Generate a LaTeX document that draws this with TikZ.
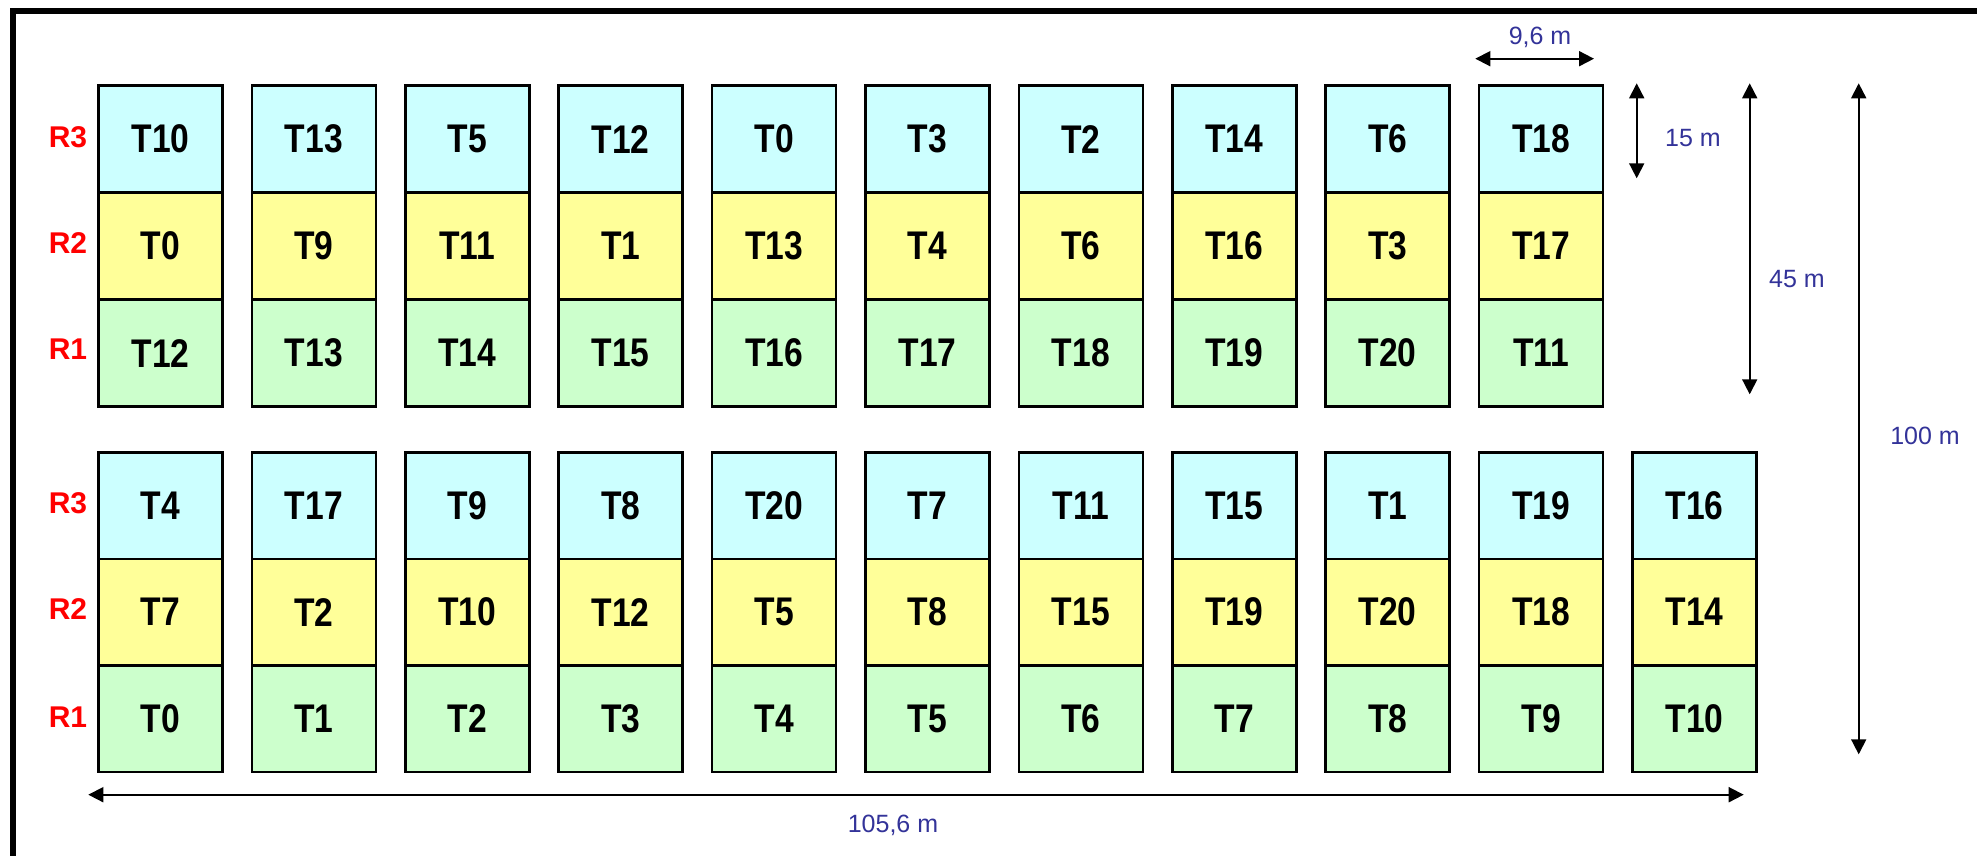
\documentclass[tikz,border=0pt]{standalone}
\usepackage{fontspec}
\setmainfont{Liberation Sans}
\newfontfamily\cellfont[FakeStretch=0.84]{Liberation Sans}
\usetikzlibrary{arrows.meta}
\definecolor{cthree}{HTML}{CCFFFF}
\definecolor{ctwo}{HTML}{FFFF99}
\definecolor{cone}{HTML}{CCFFCC}
\definecolor{labblue}{HTML}{333399}
\definecolor{rowred}{HTML}{FF0000}
\begin{document}
\begin{tikzpicture}[x=1pt,y=-1pt,
  cell/.style={draw, line width=2.5pt, minimum width=124pt, minimum height=107pt,
    inner sep=0pt, outer sep=0pt, anchor=north west,
    font=\cellfont\bfseries\fontsize{40}{40}\selectfont},
  rowlab/.style={text=rowred, font=\bfseries\fontsize{30}{30}\selectfont, inner sep=0pt},
  dimlab/.style={text=labblue, font=\fontsize{25}{25}\selectfont, inner sep=0pt},
  dim/.style={line width=1.8pt, {Triangle[length=15pt,width=15pt]}-{Triangle[length=15pt,width=15pt]}}
]
\useasboundingbox (0,0) rectangle (1977,856);
\clip (0,0) rectangle (1977,856);
\fill[white] (0,0) rectangle (1977,856);
% frame
\draw[line width=6pt] (13,900) -- (13,11) -- (2000,11);

% upper block
\foreach \lab [count=\i from 0] in {T10,T13,T5,T12,T0,T3,T2,T14,T6,T18}
  \node[cell, fill=cthree] (ua\i) at ({98.5+153.4*\i}, 85.7) {\lab};
\foreach \lab [count=\i from 0] in {T0,T9,T11,T1,T13,T4,T6,T16,T3,T17}
  \node[cell, fill=ctwo] (ub\i) at ({98.5+153.4*\i}, 192.7) {\lab};
\foreach \lab [count=\i from 0] in {T12,T13,T14,T15,T16,T17,T18,T19,T20,T11}
  \node[cell, fill=cone] (uc\i) at ({98.5+153.4*\i}, 299.7) {\lab};

% lower block
\foreach \lab [count=\i from 0] in {T4,T17,T9,T8,T20,T7,T11,T15,T1,T19,T16}
  \node[cell, fill=cthree, minimum height=106.5pt] (la\i) at ({98.5+153.4*\i}, 452.3) {\lab};
\foreach \lab [count=\i from 0] in {T7,T2,T10,T12,T5,T8,T15,T19,T20,T18,T14}
  \node[cell, fill=ctwo, minimum height=106.5pt] (lb\i) at ({98.5+153.4*\i}, 558.8) {\lab};
\foreach \lab [count=\i from 0] in {T0,T1,T2,T3,T4,T5,T6,T7,T8,T9,T10}
  \node[cell, fill=cone, minimum height=106.5pt] (lc\i) at ({98.5+153.4*\i}, 665.3) {\lab};

% row labels
\node[rowlab] (r3u) at (68,137.5) {R3};
\node[rowlab] (r2u) at (68,243) {R2};
\node[rowlab] (r1u) at (68,349) {R1};
\node[rowlab] (r3l) at (68,503.5) {R3};
\node[rowlab] (r2l) at (68,609.5) {R2};
\node[rowlab] (r1l) at (68,717) {R1};

% dimension lines
\coordinate (wa) at (1475.3,58.7);
\coordinate (wb) at (1594,58.7);
\draw[dim] (wa) -- (wb);
\node[dimlab] (wl) at (1540,37) {9,6 m};

\coordinate (ha) at (1636.7,83.3);
\coordinate (hb) at (1636.7,178.3);
\draw[dim] (ha) -- (hb);
\node[dimlab] (hl) at (1693,138.5) {15 m};

\coordinate (ga) at (1749.7,83.3);
\coordinate (gb) at (1749.7,394.3);
\draw[dim] (ga) -- (gb);
\node[dimlab] (gl) at (1797,279) {45 m};

\coordinate (ta) at (1858.7,83.3);
\coordinate (tb) at (1858.7,754.3);
\draw[dim] (ta) -- (tb);
\node[dimlab] (tl) at (1925,436) {100 m};

\coordinate (la) at (88.3,794.7);
\coordinate (lb) at (1743.7,794.7);
\draw[dim] (la) -- (lb);
\node[dimlab] (ll) at (893,825) {105,6 m};
\end{tikzpicture}
\end{document}
